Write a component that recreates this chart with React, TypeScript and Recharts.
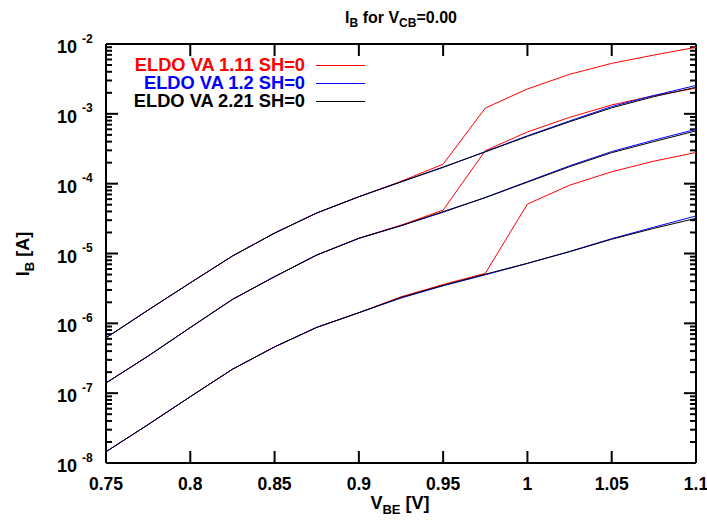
import React from 'react';
import { LineChart, Line, XAxis, YAxis, ReferenceLine, Legend, Customized } from 'recharts';

// ---------- data ----------
const vbe = [0.75, 0.775, 0.8, 0.825, 0.85, 0.875, 0.9, 0.925, 0.95, 0.975, 1.0, 1.025, 1.05, 1.075, 1.1];

const redA = [6.2e-7, 1.55e-6, 3.8e-6, 9.2e-6, 1.96e-5, 3.8e-5, 6.5e-5, 1.08e-4, 1.9e-4, 1.21e-3, 2.27e-3, 3.68e-3, 5.28e-3, 6.95e-3, 8.97e-3];
const blueA = [6.2e-7, 1.55e-6, 3.8e-6, 9.2e-6, 1.96e-5, 3.8e-5, 6.5e-5, 1.06e-4, 1.71e-4, 2.88e-4, 4.85e-4, 7.9e-4, 1.27e-3, 1.83e-3, 2.55e-3];
const blackA = [6.2e-7, 1.55e-6, 3.8e-6, 9.2e-6, 1.96e-5, 3.8e-5, 6.5e-5, 1.06e-4, 1.73e-4, 2.85e-4, 4.75e-4, 7.7e-4, 1.22e-3, 1.76e-3, 2.4e-3];

const redB = [1.4e-7, 3.4e-7, 8.7e-7, 2.2e-6, 4.66e-6, 9.5e-6, 1.65e-5, 2.55e-5, 4.18e-5, 2.97e-4, 5.5e-4, 8.9e-4, 1.34e-3, 1.82e-3, 2.33e-3];
const blueB = [1.4e-7, 3.4e-7, 8.7e-7, 2.2e-6, 4.66e-6, 9.5e-6, 1.65e-5, 2.5e-5, 3.9e-5, 6.35e-5, 1.07e-4, 1.8e-4, 2.88e-4, 4.2e-4, 6.0e-4];
const blackB = [1.4e-7, 3.4e-7, 8.7e-7, 2.2e-6, 4.66e-6, 9.5e-6, 1.65e-5, 2.5e-5, 3.98e-5, 6.3e-5, 1.05e-4, 1.75e-4, 2.78e-4, 4.0e-4, 5.7e-4];

const redC = [1.45e-8, 3.55e-8, 8.9e-8, 2.2e-7, 4.6e-7, 8.75e-7, 1.42e-6, 2.4e-6, 3.6e-6, 5.2e-6, 5.1e-5, 9.5e-5, 1.48e-4, 2.1e-4, 2.8e-4];
const blueC = [1.45e-8, 3.55e-8, 8.9e-8, 2.2e-7, 4.6e-7, 8.75e-7, 1.42e-6, 2.3e-6, 3.45e-6, 4.95e-6, 7.2e-6, 1.07e-5, 1.63e-5, 2.38e-5, 3.45e-5];
const blackC = [1.45e-8, 3.55e-8, 8.9e-8, 2.2e-7, 4.6e-7, 8.75e-7, 1.42e-6, 2.35e-6, 3.5e-6, 5.05e-6, 7.25e-6, 1.06e-5, 1.6e-5, 2.29e-5, 3.19e-5];

const xTicks = [0.75, 0.8, 0.85, 0.9, 0.95, 1, 1.05, 1.1];
const xTickLabels = ['0.75', '0.8', '0.85', '0.9', '0.95', '1', '1.05', '1.1'];
const yExponents = [-8, -7, -6, -5, -4, -3, -2];

const legendItems = [
  { label: 'ELDO VA 1.11 SH=0', color: '#ff0000' },
  { label: 'ELDO VA 1.2 SH=0', color: '#0000ff' },
  { label: 'ELDO VA 2.21 SH=0', color: '#000000' },
];

const chartData = vbe.map((v, i) => ({
  vbe: v,
  redA: redA[i], blueA: blueA[i], blackA: blackA[i],
  redB: redB[i], blueB: blueB[i], blackB: blackB[i],
  redC: redC[i], blueC: blueC[i], blackC: blackC[i],
}));

// y ticks: decades plus minor ticks 2..9
const yMajor: number[] = yExponents.map((e) => Math.pow(10, e));
const yMinor: number[] = [];
yExponents.slice(0, -1).forEach((e) => {
  for (let m = 2; m <= 9; m++) yMinor.push(m * Math.pow(10, e));
});

// ---------- layout ----------
const W = 707;
const H = 523;
const PLOT_RIGHT = 696;
const PLOT_LEFT = 106;
const PLOT_TOP = 44;
const PLOT_BOTTOM = 463;
const X_DOMAIN: [number, number] = [0.75, 1.1];
const Y_DOMAIN: [number, number] = [1e-8, 1e-2];
const FONT = '"Liberation Sans", Arial, Helvetica, sans-serif';
const MAJOR_LEN = 12;
const MINOR_LEN = 6;

const YTick = (props: any) => {
  const { y, payload } = props;
  const lg = Math.round(Math.log10(payload.value));
  return (
    <text fontFamily={FONT} fontWeight="bold" fill="#000">
      <tspan x={77} y={y + 9} textAnchor="end" fontSize={18}>10</tspan>
      <tspan x={82} y={y - 1.5} fontSize={12}>{String(lg)}</tspan>
    </text>
  );
};

const XTick = (props: any) => {
  const { x, payload } = props;
  const idx = xTicks.findIndex((t) => Math.abs(t - payload.value) < 1e-9);
  return (
    <text x={x} y={489.5} textAnchor="middle" fontFamily={FONT} fontWeight="bold" fontSize={17.5} fill="#000">
      {idx >= 0 ? xTickLabels[idx] : String(payload.value)}
    </text>
  );
};

// inward tick marks drawn from a ReferenceLine's scaled end points (both sides of the frame)
const yMarks = (len: number) => (p: any) => {
  const l = Math.min(p.x1, p.x2);
  const r = Math.max(p.x1, p.x2);
  const y = p.y1;
  return (
    <g>
      <line x1={l} x2={l + len} y1={y} y2={y} stroke="#000" strokeWidth={2} />
      <line x1={r - len} x2={r} y1={y} y2={y} stroke="#000" strokeWidth={2} />
    </g>
  );
};
const xMarks = (len: number) => (p: any) => {
  const t = Math.min(p.y1, p.y2);
  const b = Math.max(p.y1, p.y2);
  const x = p.x1;
  return (
    <g>
      <line x1={x} x2={x} y1={b} y2={b - len} stroke="#000" strokeWidth={2} />
      <line x1={x} x2={x} y1={t} y2={t + len} stroke="#000" strokeWidth={2} />
    </g>
  );
};

const Titles = () => (
  <g fontFamily={FONT} fontWeight="bold" fill="#000">
    <text x={401} y={22.5} textAnchor="middle" fontSize={16}>
      I<tspan dy={4} fontSize={12}>B</tspan>
      <tspan dy={-4}> for V</tspan>
      <tspan dy={4} fontSize={12}>CB</tspan>
      <tspan dy={-4}>=0.00</tspan>
    </text>
    <text x={400} y={509} textAnchor="middle" fontSize={18}>
      V<tspan dy={4.5} fontSize={13}>BE</tspan>
      <tspan dy={-4.5}> [V]</tspan>
    </text>
    <text x={29} y={254} textAnchor="middle" fontSize={18} transform="rotate(-90 29 254)">
      I<tspan dy={4.5} fontSize={13}>B</tspan>
      <tspan dy={-4.5}> [A]</tspan>
    </text>
  </g>
);

const LegendContent = () => (
  <div style={{ fontFamily: FONT, fontWeight: 'bold', fontSize: 18.3 }}>
    {legendItems.map((it) => (
      <div key={it.label} style={{ display: 'flex', alignItems: 'center', height: 18 }}>
        <span style={{ width: 205, textAlign: 'right', color: it.color, whiteSpace: 'nowrap', lineHeight: '18px' }}>
          {it.label}
        </span>
        <span style={{ marginLeft: 11, width: 49, height: 1, background: it.color, display: 'inline-block' }} />
      </div>
    ))}
  </div>
);

const seriesOrder = [
  { key: 'redA', color: '#ff0000' }, { key: 'redB', color: '#ff0000' }, { key: 'redC', color: '#ff0000' },
  { key: 'blueA', color: '#0000ff' }, { key: 'blueB', color: '#0000ff' }, { key: 'blueC', color: '#0000ff' },
  { key: 'blackA', color: '#000000' }, { key: 'blackB', color: '#000000' }, { key: 'blackC', color: '#000000' },
];

export default function App() {
  return (
    <div style={{ position: 'absolute', left: 0, top: 0, width: W, height: H }}>
      <LineChart
        width={W}
        height={H}
        data={chartData}
        margin={{ top: PLOT_TOP, right: W - PLOT_RIGHT, bottom: 0, left: 0 }}
      >
        <XAxis
          dataKey="vbe"
          type="number"
          domain={X_DOMAIN}
          ticks={xTicks}
          interval={0}
          height={H - PLOT_BOTTOM}
          tickLine={false}
          axisLine={{ stroke: '#000', strokeWidth: 2 }}
          tick={<XTick />}
        />
        <YAxis
          type="number"
          scale="log"
          domain={Y_DOMAIN}
          ticks={yMajor}
          interval={0}
          width={PLOT_LEFT}
          tickLine={false}
          axisLine={{ stroke: '#000', strokeWidth: 2 }}
          tick={<YTick />}
        />
        {yMajor.slice(1, -1).map((v) => (
          <ReferenceLine key={'ym' + v} y={v} shape={yMarks(MAJOR_LEN)} />
        ))}
        {yMinor.map((v) => (
          <ReferenceLine key={'yn' + v} y={v} shape={yMarks(MINOR_LEN)} />
        ))}
        {xTicks.slice(1, -1).map((v) => (
          <ReferenceLine key={'xm' + v} x={v} shape={xMarks(MAJOR_LEN)} />
        ))}
        <ReferenceLine y={Y_DOMAIN[1]} stroke="#000" strokeWidth={2} />
        <ReferenceLine x={X_DOMAIN[1]} stroke="#000" strokeWidth={2} />
        {seriesOrder.map((s) => (
          <Line
            key={s.key}
            dataKey={s.key}
            type="linear"
            stroke={s.color}
            strokeWidth={1}
            dot={false}
            activeDot={false}
            isAnimationActive={false}
          />
        ))}
        <Legend
          layout="horizontal"
          verticalAlign="middle"
          align="center"
          content={<LegendContent />}
          wrapperStyle={{ left: 100, top: 56, width: 270, height: 54 }}
        />
        <Customized component={Titles} />
      </LineChart>
    </div>
  );
}
